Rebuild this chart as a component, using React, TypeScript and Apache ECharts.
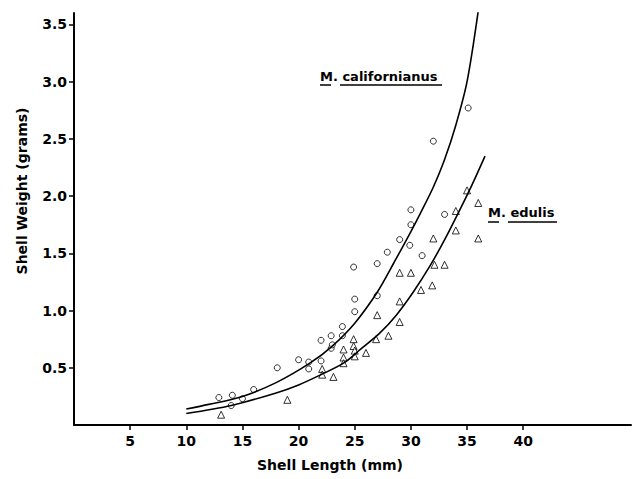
import React, { useEffect, useRef } from "react";
import * as echarts from "echarts";

// M. californianus observations (circles): [shell length mm, shell weight g]
const calPoints: number[][] = [
  [12.9, 0.24], [14.1, 0.26], [15.0, 0.23], [16.0, 0.31], [18.1, 0.5], [20.0, 0.57],
  [20.9, 0.55], [20.9, 0.49], [22.0, 0.74], [22.0, 0.56], [22.9, 0.78], [22.9, 0.67],
  [23.0, 0.7], [23.9, 0.86], [23.9, 0.78], [25.0, 0.99], [25.0, 1.1], [24.9, 1.38],
  [27.0, 1.13], [27.0, 1.41], [27.9, 1.51], [29.0, 1.62], [29.9, 1.57], [31.0, 1.48],
  [35.1, 2.77], [32.0, 2.48], [30.0, 1.88], [30.0, 1.75], [33.0, 1.84], [14.0, 0.17],
];

// M. edulis observations (triangles)
const eduPoints: number[][] = [
  [35.0, 2.05], [36.0, 1.94], [34.0, 1.87], [34.0, 1.7], [36.0, 1.63], [32.0, 1.63],
  [32.1, 1.4], [33.0, 1.4], [29.0, 1.33], [30.0, 1.33], [30.9, 1.18], [31.9, 1.22],
  [29.0, 1.08], [27.0, 0.96], [29.0, 0.9], [28.0, 0.78], [26.9, 0.75], [26.0, 0.63],
  [24.9, 0.75], [24.9, 0.69], [25.0, 0.65], [25.0, 0.6], [24.0, 0.66], [24.0, 0.59],
  [24.0, 0.54], [23.1, 0.42], [22.1, 0.49], [22.1, 0.44], [19.0, 0.22], [13.1, 0.09],
];

// fitted curves
const calCurve: number[][] = [
  [10, 0.14], [12, 0.18], [15, 0.25], [18, 0.37], [21, 0.54], [23, 0.69], [25, 0.89],
  [27, 1.16], [28.5, 1.42], [30, 1.69], [31, 1.88], [32, 2.08], [33, 2.32], [34, 2.62],
  [35, 3.0], [36, 3.62],
];
const eduCurve: number[][] = [
  [10, 0.1], [14, 0.17], [18, 0.28], [20, 0.35], [22, 0.44], [24, 0.54], [25.5, 0.66],
  [27.2, 0.8], [28.7, 0.96], [30.2, 1.16], [31.7, 1.39], [32.9, 1.6], [34.1, 1.83],
  [35.4, 2.09], [36.6, 2.35],
];

const xTicks = [5, 10, 15, 20, 25, 30, 35, 40];
const yTicks = [0.5, 1.0, 1.5, 2.0, 2.5, 3.0, 3.5];

const FONT = "DejaVu Sans";

export default function App() {
  const ref = useRef<HTMLDivElement>(null);
  useEffect(() => {
    if (!ref.current) return;
    const chart = echarts.init(ref.current, undefined, { renderer: "svg" });
    const axisLine = { show: true, lineStyle: { color: "#000", width: 2 } };
    const label = { color: "#000", fontFamily: FONT, fontSize: 14, fontWeight: "bold" as const };
    chart.setOption({
      animation: false,
      backgroundColor: "#fff",
      grid: { left: 74, top: 13, right: 1, bottom: 54 },
      xAxis: {
        type: "value",
        min: 0,
        max: 49.6,
        interval: 5,
        axisLine,
        splitLine: { show: false },
        axisTick: { show: true, length: 5, lineStyle: { color: "#000", width: 1.5 }, customValues: xTicks },
        axisLabel: { ...label, margin: 9, customValues: xTicks, formatter: (v: number) => String(v) },
      },
      yAxis: {
        type: "value",
        min: 0,
        max: 3.6,
        interval: 0.5,
        axisLine,
        splitLine: { show: false },
        axisTick: { show: true, length: 5, lineStyle: { color: "#000", width: 1.5 }, customValues: yTicks },
        axisLabel: { ...label, margin: 7, customValues: yTicks, formatter: (v: number) => v.toFixed(1) },
      },
      series: [
        {
          type: "line",
          data: calCurve,
          smooth: 0.3,
          showSymbol: false,
          symbol: "none",
          lineStyle: { color: "#000", width: 1.6 },
        },
        {
          type: "line",
          data: eduCurve,
          smooth: 0.3,
          showSymbol: false,
          symbol: "none",
          lineStyle: { color: "#000", width: 1.6 },
        },
        {
          type: "scatter",
          data: calPoints,
          symbol: "circle",
          symbolSize: 6,
          itemStyle: { color: "#fff", borderColor: "#000", borderWidth: 1 },
        },
        {
          type: "scatter",
          data: eduPoints,
          symbol: "triangle",
          symbolSize: 7,
          itemStyle: { color: "#fff", borderColor: "#000", borderWidth: 1 },
        },
      ],
      graphic: [
        {
          type: "text",
          x: 22,
          y: 191,
          rotation: Math.PI / 2,
          style: {
            text: "Shell Weight (grams)",
            font: `bold 14px "${FONT}"`,
            fill: "#000",
            textAlign: "center",
            textVerticalAlign: "middle",
          },
        },
        {
          type: "text",
          x: 330,
          y: 465,
          style: {
            text: "Shell Length (mm)",
            font: `bold 14px "${FONT}"`,
            fill: "#000",
            textAlign: "center",
            textVerticalAlign: "middle",
          },
        },
        {
          type: "text",
          x: 320,
          y: 76,
          style: {
            text: "M. californianus",
            font: `bold 13px "${FONT}"`,
            fill: "#000",
            textAlign: "left",
            textVerticalAlign: "middle",
          },
        },
        { type: "line", shape: { x1: 320, y1: 85, x2: 331, y2: 85 }, style: { stroke: "#000", lineWidth: 1.5 } },
        { type: "line", shape: { x1: 340, y1: 85, x2: 442, y2: 85 }, style: { stroke: "#000", lineWidth: 1.5 } },
        {
          type: "text",
          x: 488,
          y: 212,
          style: {
            text: "M. edulis",
            font: `bold 13px "${FONT}"`,
            fill: "#000",
            textAlign: "left",
            textVerticalAlign: "middle",
          },
        },
        { type: "line", shape: { x1: 488, y1: 222, x2: 499, y2: 222 }, style: { stroke: "#000", lineWidth: 1.5 } },
        { type: "line", shape: { x1: 508, y1: 222, x2: 557, y2: 222 }, style: { stroke: "#000", lineWidth: 1.5 } },
      ],
    });
    return () => chart.dispose();
  }, []);
  return (
    <div
      ref={ref}
      style={{ position: "absolute", left: 0, top: 0, width: 632, height: 479, background: "#fff" }}
    />
  );
}
